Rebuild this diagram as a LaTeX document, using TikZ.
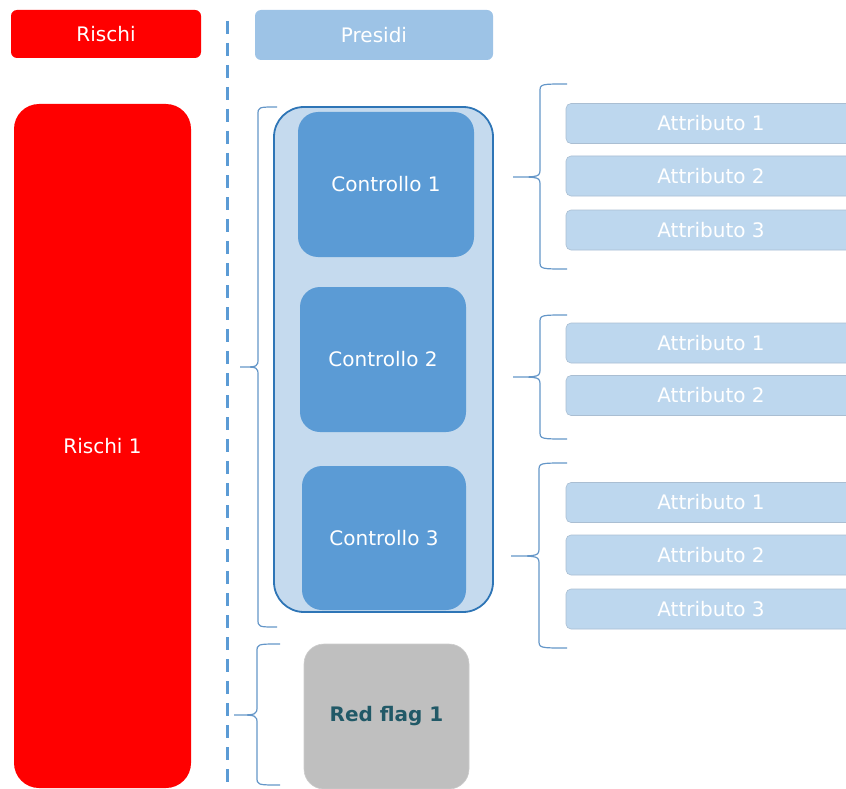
\documentclass[tikz,border=0pt]{standalone}
\usepackage{fontspec}
\setmainfont{DejaVu Sans}
\usepackage{tikz}
\usetikzlibrary{positioning}
\definecolor{rosso}{RGB}{255,0,0}
\definecolor{presidi}{RGB}{157,195,230}
\definecolor{contfill}{RGB}{197,218,238}
\definecolor{contline}{RGB}{46,117,182}
\definecolor{ctrlfill}{RGB}{91,155,213}
\definecolor{attrfill}{RGB}{189,215,238}
\definecolor{attrline}{RGB}{170,190,210}
\definecolor{flagfill}{RGB}{191,191,191}
\definecolor{flagtext}{RGB}{33,89,103}
\definecolor{bracecol}{RGB}{100,150,200}
\tikzset{>=latex,
  header/.style={rectangle,rounded corners=6pt,text=white,font=\fontsize{20}{24}\selectfont},
  ctrl/.style={rectangle,rounded corners=20pt,fill=ctrlfill,text=white,font=\fontsize{20}{24}\selectfont},
  attr/.style={rectangle,rounded corners=5pt,fill=attrfill,draw=attrline,line width=0.6pt,text=white,
    minimum width=290pt,minimum height=40pt,font=\fontsize{20}{24}\selectfont},
  bracepath/.style={draw=bracecol,line width=1.2pt}
}
% left pointing curly brace: xe = ends, xm = spine, xt = tip, ya = top, yz = bottom, ym = tip height
\newcommand{\curlybrace}[6]{%
  \draw[bracepath] (#1,#4) .. controls (#2,#4) .. (#2,#4+8) -- (#2,#6-9)
    .. controls (#2,#6) .. (#3,#6) .. controls (#2,#6) .. (#2,#6+9) -- (#2,#5-8)
    .. controls (#2,#5) .. (#1,#5);}

\begin{document}
\begin{tikzpicture}[x=1pt,y=-1pt]
\useasboundingbox (0,0) rectangle (846,789);
\begin{scope}
\clip (0,0) rectangle (846,789);
% headers
\node[header,fill=rosso,minimum width=190pt,minimum height=48pt] (R) at (106,34) {Rischi};
\node[header,fill=presidi,minimum width=238pt,minimum height=50pt] (P) at (374,35) {Presidi};
% divider
\coordinate (dtop) at (227,21);
\coordinate (dbot) at (227,789);
\draw[ctrlfill,line width=3pt,dash pattern=on 13pt off 9pt] (dtop) -- (dbot);
% rischi
\node[rectangle,rounded corners=25pt,fill=rosso,text=white,font=\fontsize{20}{24}\selectfont,
  minimum width=177pt,minimum height=684pt] (R1) at (102.5,446) {Rischi 1};
% controlli
\node[rectangle,rounded corners=30pt,fill=contfill,draw=contline,line width=1.8pt,
  minimum width=219pt,minimum height=505pt] (C) at (383.5,359.5) {};
\node[ctrl,minimum width=176pt,minimum height=145pt] (C1) at (386,184.5) {Controllo 1};
\node[ctrl,minimum width=166pt,minimum height=145pt] (C2) at (383,359.5) {Controllo 2};
\node[ctrl,minimum width=164pt,minimum height=144pt] (C3) at (384,538) {Controllo 3};
\node[rectangle,rounded corners=20pt,fill=flagfill,draw=black!20,line width=0.6pt,text=flagtext,
  font=\fontsize{20}{24}\selectfont\bfseries,minimum width=165pt,minimum height=145pt] (F) at (386.5,716.5) {Red flag 1};
% attributi
\node[attr] (A11) at (711,123.5) {Attributo 1};
\node[attr] (A12) at (711,176) {Attributo 2};
\node[attr] (A13) at (711,230) {Attributo 3};
\node[attr] (A21) at (711,343) {Attributo 1};
\node[attr] (A22) at (711,395.5) {Attributo 2};
\node[attr] (A31) at (711,502.5) {Attributo 1};
\node[attr] (A32) at (711,555) {Attributo 2};
\node[attr] (A33) at (711,609) {Attributo 3};
% braces
\curlybrace{277}{258}{240}{107}{627}{367}
\curlybrace{280}{257}{234}{644}{785}{715}
\curlybrace{567}{540}{513}{84}{269}{177}
\curlybrace{567}{540}{513}{315}{439}{377}
\curlybrace{567}{539}{511}{463}{648}{556}
\end{scope}
\end{tikzpicture}
\end{document}
